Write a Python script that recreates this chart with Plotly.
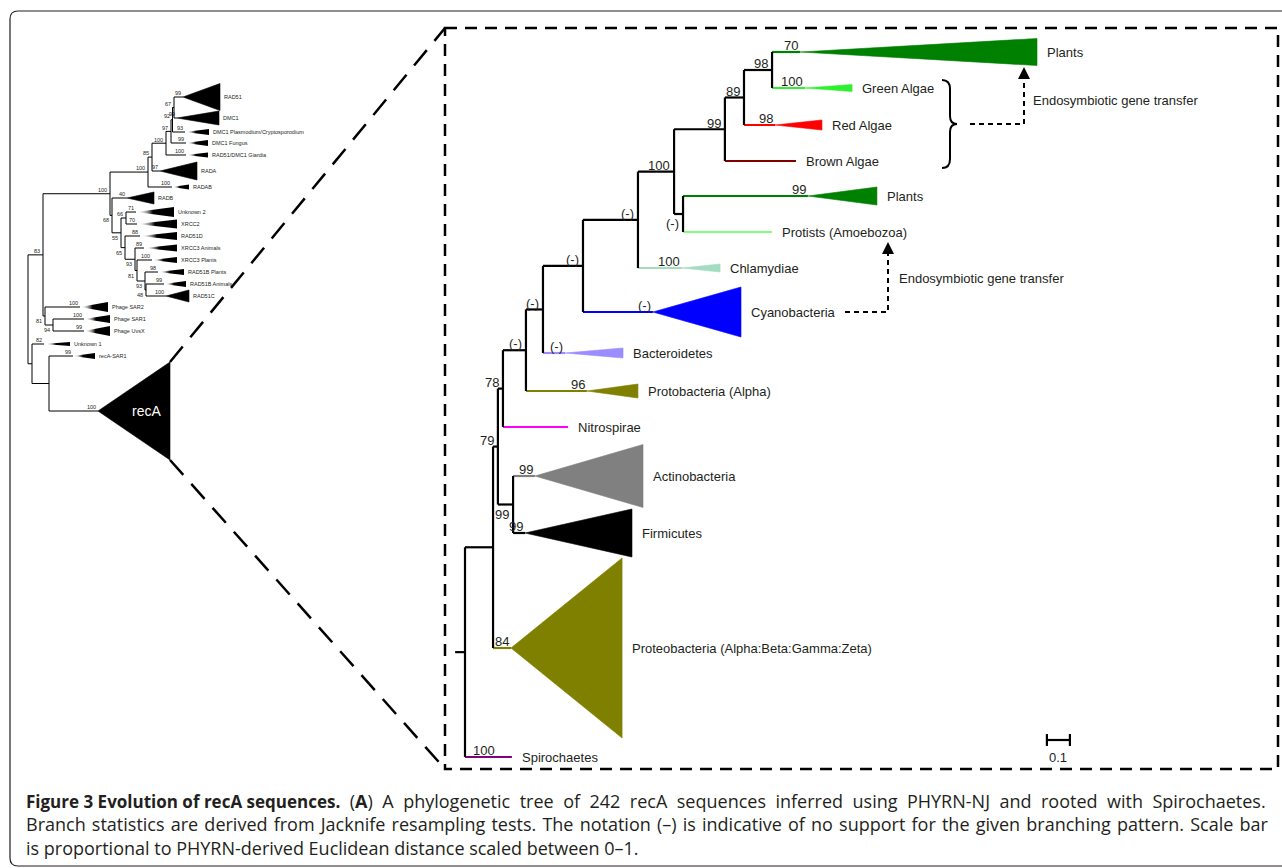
import plotly.graph_objects as go

W, H = 1282, 868

# ---------------- DATA ----------------
# Right panel: recA tree, x = PHYRN-derived distance from the root
R_NODES = ['root', 'nD', 'nB', 'nA', 'nAF', 'nC4', 'nC3', 'nC2', 'nC1', 'n100', 'nPP', 'n99', 'n89', 'n98']
R_NODE_DEPTH = [0.000, 0.122, 0.143, 0.165, 0.209, 0.265, 0.339, 0.513, 0.752, 0.909, 0.948, 1.130, 1.213, 1.335]
R_NODE_SUPPORT = ['', '', '79', '78', '99', '(-)', '(-)', '(-)', '(-)', '100', '(-)', '99', '89', '98']
R_NODE_CHILDREN = [['nD', 'spiro'], ['nB', 'proteo'], ['nA', 'nAF'], ['nC4', 'nitro'], ['actino', 'firm'],
                   ['nC3', 'alpha'], ['nC2', 'bact'], ['nC1', 'cyano'], ['n100', 'chlam'], ['n99', 'nPP'],
                   ['plants2', 'protists'], ['n89', 'brown'], ['n98', 'red'], ['plants1', 'green']]

R_LEAVES = ['plants1', 'green', 'red', 'brown', 'plants2', 'protists', 'chlam', 'cyano', 'bact',
            'alpha', 'nitro', 'actino', 'firm', 'proteo', 'spiro']
R_LEAF_NAME = ['Plants', 'Green Algae', 'Red Algae', 'Brown Algae', 'Plants', 'Protists (Amoebozoa)',
               'Chlamydiae', 'Cyanobacteria', 'Bacteroidetes', 'Protobacteria (Alpha)', 'Nitrospirae',
               'Actinobacteria', 'Firmicutes', 'Proteobacteria (Alpha:Beta:Gamma:Zeta)', 'Spirochaetes']
R_LEAF_ROW = [52, 88, 125, 161, 196, 232, 268, 312, 353, 391, 427, 476, 533, 648, 757]
R_LEAF_APEX = [1.457, 1.478, 1.348, None, 1.491, None, 0.943, 0.817, 0.435, 0.530, None, 0.304, 0.261, 0.200, 0.139]
R_LEAF_TIP = [2.487, 1.683, 1.552, 1.439, 1.791, 1.335, 1.109, 1.200, 0.687, 0.752, 0.448, 0.774, 0.726, 0.683, 0.204]
R_LEAF_SPREAD = [13.5, 3.5, 5, 0, 9, 0, 4, 25, 5, 7, 0, 31.5, 24, 90, 0]
R_LEAF_SUPPORT = ['70', '100', '98', '', '99', '', '100', '(-)', '(-)', '96', '', '99', '99', '84', '100']
R_ROOT_STUB = 0.043
SCALE_BAR_LEN = 0.1
SCALE_BAR_LABEL = '0.1'

# Left panel: full RecA/RAD51 family tree (x = relative distance)
L_NODES = ['G', 'I', 'J', 'M', 'O', 'P', 'Q', 'R', 'S', 'N', 'T', 'U', 'V', 'W', 'X', 'Y', 'Z', 'K', 'L', 'E', 'F']
L_NODE_DEPTH = [28, 43, 110, 148, 152, 166, 171, 172.5, 174, 112, 121, 126, 125, 135, 137, 145, 146, 45, 53, 32, 49]
L_NODE_SUPPORT = ['', '83', '100', '100', '85', '100', '97', '92', '67', '68', '55', '66', '65', '93', '81', '93', '48',
                  '81', '94', '', '']
L_NODE_CHILDREN = [['I', 'E'], ['J', 'K'], ['M', 'N'], ['O', 'RADAB'], ['P', 'RADA'], ['Q', 'RAD51/DMC1 Giardia'],
                   ['R', 'DMC1 Fungus'], ['S', 'DMC1 Plasmodium/Cryptosporodium'], ['RAD51', 'DMC1'],
                   ['RADB', 'T'], ['U', 'V'], ['Unknown 2', 'XRCC2'], ['RAD51D', 'W'], ['XRCC3 Animals', 'X'],
                   ['XRCC3 Plants', 'Y'], ['RAD51B Plants', 'Z'], ['RAD51B Animals', 'RAD51C'],
                   ['Phage SAR2', 'L'], ['Phage SAR1', 'Phage UvsX'], ['Unknown 1', 'F'], ['recA-SAR1', 'recA']]
L_LEAVES = ['RAD51', 'DMC1', 'DMC1 Plasmodium/Cryptosporodium', 'DMC1 Fungus', 'RAD51/DMC1 Giardia', 'RADA',
            'RADAB', 'RADB', 'Unknown 2', 'XRCC2', 'RAD51D', 'XRCC3 Animals', 'XRCC3 Plants', 'RAD51B Plants',
            'RAD51B Animals', 'RAD51C', 'Phage SAR2', 'Phage SAR1', 'Phage UvsX', 'Unknown 1', 'recA-SAR1', 'recA']
L_LEAF_ROW = [97, 118, 132, 143, 155, 171, 187, 198, 212, 224, 236, 248, 260, 272, 284, 296, 307, 319, 331, 344, 356, 411]
L_LEAF_APEX = [183, 177, 185, 186, 186, 160, 172, 127, 136, 137, 140, 144, 152, 158, 164, 166, 80, 84, 84, 44, 73, 98]
L_LEAF_TIP = [220, 219, 209, 208, 208, 197, 189, 154, 174, 177, 177, 177, 177, 184, 186, 189, 108, 110, 110, 70, 95, 170]
L_LEAF_SPREAD = [13.5, 7, 3, 3, 2.5, 9, 2.5, 6, 5, 4.5, 4, 3.5, 3, 3, 3, 6, 5, 4, 5, 2, 3, 49]
L_LEAF_SUPPORT = ['99', '99', '93', '99', '100', '97', '100', '40', '71', '70', '88', '89', '100', '98', '99', '100',
                  '100', '100', '99', '82', '99', '100']

CAPTION_TITLE = 'Figure 3 Evolution of recA sequences.'
CAPTION = [
    ' (<b>A</b>) A phylogenetic tree of 242 recA sequences inferred using PHYRN-NJ and rooted with Spirochaetes.',
    'Branch statistics are derived from Jacknife resampling tests. The notation (–) is indicative of no support '
    'for the given branching pattern. Scale bar',
    'is proportional to PHYRN-derived Euclidean distance scaled between 0–1.',
]
EGT_TEXT = 'Endosymbiotic gene transfer'

# ---------------- STYLE / LAYOUT ----------------
R_LEAF_COLOR = ['#008000', '#2ef02e', '#ff0000', '#800000', '#008000', '#80ff80', '#a3dcc0', '#0000ff',
                '#9b8cff', '#808000', '#ff00ff', '#808080', '#000000', '#808000', '#800080']
TXT = '#231f20'
FONT = 'Liberation Sans, Arial, sans-serif'
CAP_FONT = 'Open Sans, sans-serif'
ROOT_PX = 465.0      # pixel position of the right-tree root
PX_PER_UNIT = 230.0  # pixels per distance unit (right tree)

fig = go.Figure()
annotations = []
shapes = []


def ann(x, y, text, xref='x', size=13, xanchor='left', yanchor='middle', xshift=0, yshift=0, color=TXT,
        family=FONT):
    annotations.append(dict(x=x, y=y, xref=xref, yref='y', text=text, showarrow=False, xanchor=xanchor,
                            yanchor=yanchor, xshift=xshift, yshift=yshift,
                            font=dict(size=size, color=color, family=family)))


def tree_rows(nodes, children, leaves, rows):
    ypos = dict(zip(leaves, rows))
    ch = dict(zip(nodes, children))

    def gety(n):
        if n not in ypos:
            ypos[n] = (gety(ch[n][0]) + gety(ch[n][-1])) / 2.0
        return ypos[n]

    for n in nodes:
        gety(n)
    return ypos


def draw_tree(nodes, depths, supports, children, leaves, rows, apex, tips, spread, lsup, colors, names, xaxis,
              lw, sup_size, name_size, gap, name_shift, gradient):
    xref = 'x' if xaxis == 'x' else 'x2'
    ypos = tree_rows(nodes, children, leaves, rows)
    depth = dict(zip(nodes, depths))
    sup = dict(zip(nodes, supports))
    li = {n: i for i, n in enumerate(leaves)}
    bx, by = [], []
    sdy = sup_size * 0.25
    for n in nodes:
        cs = children[nodes.index(n)]
        d = depth[n]
        bx += [d, d, None]
        by += [ypos[cs[0]], ypos[cs[-1]], None]
        for k, c in enumerate(cs):
            if c in depth:
                bx += [d, depth[c], None]
                by += [ypos[c], ypos[c], None]
                if sup[c]:
                    if k == 0:
                        ann(depth[c], ypos[c], sup[c], xref, sup_size, 'right', 'bottom', -gap, -sdy)
                    else:
                        ann(depth[c], ypos[c], sup[c], xref, sup_size, 'right', 'top', -gap, 0)
            else:
                i = li[c]
                col = colors[i]
                has_tri = spread[i] > 0
                end = apex[i] if has_tri else tips[i]
                fig.add_trace(go.Scatter(x=[d, end], y=[ypos[c], ypos[c]], mode='lines', xaxis=xaxis, yaxis='y',
                                         line=dict(color=col, width=lw), hoverinfo='skip', showlegend=False))
                if has_tri:
                    xa, xt, yy, hh = apex[i], tips[i], ypos[c], spread[i]
                    kw = dict(x=[xa, xt, xt, xa], y=[yy, yy - hh, yy + hh, yy], mode='lines', fill='toself',
                              xaxis=xaxis, yaxis='y', hoverinfo='skip', showlegend=False)
                    if gradient and hh <= 5:
                        kw['line'] = dict(width=0, color=col)
                        kw['fillgradient'] = dict(type='horizontal', start=xa, stop=xt,
                                                  colorscale=[[0, 'rgba(255,255,255,0)'], [0.45, col], [1, col]])
                    else:
                        kw['line'] = dict(width=0.6, color=col)
                        kw['fillcolor'] = col
                    fig.add_trace(go.Scatter(**kw))
                if lsup[i]:
                    ann(apex[i], ypos[c], lsup[i], xref, sup_size, 'right', 'bottom', 0, -sdy)
                if c == 'recA':
                    ann(apex[i] + 2 * (tips[i] - apex[i]) / 3, ypos[c], 'recA', xref, 14, 'center', 'middle',
                        0, 0, 'white')
                else:
                    ann(tips[i], ypos[c], names[i], xref, name_size, 'left', 'middle', name_shift, 0)
    fig.add_trace(go.Scatter(x=bx, y=by, mode='lines', xaxis=xaxis, yaxis='y', line=dict(color='black', width=lw),
                             hoverinfo='skip', showlegend=False, connectgaps=False))
    return ypos


# right tree
rpos = draw_tree(R_NODES, R_NODE_DEPTH, R_NODE_SUPPORT, R_NODE_CHILDREN, R_LEAVES, R_LEAF_ROW, R_LEAF_APEX,
                 R_LEAF_TIP, R_LEAF_SPREAD, R_LEAF_SUPPORT, R_LEAF_COLOR, R_LEAF_NAME, 'x2', 2.2, 13, 13, 2, 8,
                 False)
# root stub
fig.add_trace(go.Scatter(x=[-R_ROOT_STUB, 0], y=[rpos['root'], rpos['root']], mode='lines', xaxis='x2',
                         yaxis='y', line=dict(color='black', width=2.2), hoverinfo='skip', showlegend=False))

# left tree
lpos = draw_tree(L_NODES, L_NODE_DEPTH, L_NODE_SUPPORT, L_NODE_CHILDREN, L_LEAVES, L_LEAF_ROW, L_LEAF_APEX,
                 L_LEAF_TIP, L_LEAF_SPREAD, L_LEAF_SUPPORT, ['black'] * len(L_LEAVES), L_LEAVES, 'x', 1.0, 5.5, 5.5,
                 1, 2, True)

# scale bar
sb0 = 2.53
sby = 740
fig.add_trace(go.Scatter(x=[sb0, sb0 + SCALE_BAR_LEN, None, sb0, sb0, None, sb0 + SCALE_BAR_LEN, sb0 + SCALE_BAR_LEN],
                         y=[sby, sby, None, sby - 6, sby + 6, None, sby - 6, sby + 6], mode='lines', xaxis='x2',
                         yaxis='y', line=dict(color='black', width=2.2), hoverinfo='skip', showlegend=False))
ann(sb0 + SCALE_BAR_LEN / 2, sby + 8, SCALE_BAR_LABEL, 'x2', 13, 'center', 'top')

# endosymbiotic gene transfer annotations (positioned off the leaf rows)
top = rpos['green'] - 8
bot = rpos['brown'] + 7
mid = (top + bot) / 2
bx0 = 942
shapes.append(dict(type='path', xref='x', yref='y', line=dict(color='black', width=2),
                   path=f'M {bx0},{top} Q {bx0 + 8},{top} {bx0 + 8},{top + 9} L {bx0 + 8},{mid - 8} '
                        f'Q {bx0 + 8},{mid} {bx0 + 15},{mid} Q {bx0 + 8},{mid} {bx0 + 8},{mid + 8} '
                        f'L {bx0 + 8},{bot - 9} Q {bx0 + 8},{bot} {bx0},{bot}'))
ax1 = 1024
arr1 = rpos['plants1'] + 15
shapes.append(dict(type='path', xref='x', yref='y', line=dict(color='black', width=2, dash='5px,4px'),
                   path=f'M {bx0 + 28},{mid} L {ax1},{mid} L {ax1},{arr1 + 6}'))
annotations.append(dict(x=ax1, y=arr1, ax=ax1, ay=arr1 + 9, xref='x', yref='y', axref='x', ayref='y', text='',
                        showarrow=True, arrowhead=2, arrowsize=1.2, arrowwidth=2, arrowcolor='black'))
ann(ax1 + 7, (arr1 + mid) / 2 + 5, EGT_TEXT, 'x', 13)

cy = rpos['cyano']
ax2 = 888
arr2 = rpos['protists'] + 10
shapes.append(dict(type='path', xref='x', yref='y', line=dict(color='black', width=2, dash='5px,4px'),
                   path=f'M 845,{cy} L {ax2},{cy} L {ax2},{arr2 + 6}'))
annotations.append(dict(x=ax2, y=arr2, ax=ax2, ay=arr2 + 9, xref='x', yref='y', axref='x', ayref='y', text='',
                        showarrow=True, arrowhead=2, arrowsize=1.2, arrowwidth=2, arrowcolor='black'))
ann(ax2 + 9, (arr2 + cy) / 2 + 1, EGT_TEXT, 'x', 13)

# zoom box + connectors
shapes.append(dict(type='rect', xref='x', yref='y', x0=445, x1=1278, y0=28, y1=769,
                   line=dict(color='black', width=2.5, dash='12px,8px')))
rtop = lpos['recA'] - L_LEAF_SPREAD[-1]
rbot = lpos['recA'] + L_LEAF_SPREAD[-1]
rtip = L_LEAF_TIP[-1]
shapes.append(dict(type='line', xref='x', yref='y', x0=rtip, y0=rtop, x1=445, y1=28,
                   line=dict(color='black', width=2.5, dash='20px,12px')))
shapes.append(dict(type='line', xref='x', yref='y', x0=rtip, y0=rbot, x1=445, y1=769,
                   line=dict(color='black', width=2.5, dash='20px,12px')))

# outer rounded frame
shapes.append(dict(type='path', xref='x', yref='y', line=dict(color='#231f20', width=1.2),
                   path='M 1295,11 L 18,11 Q 10,11 10,19 L 10,858 Q 10,866 18,866 L 1295,866'))

# caption (single justified block)
cap_lines = [
    f'<span style="font-size:17px"><b>{CAPTION_TITLE}</b></span>'
    f'<span style="word-spacing:4.8px">{CAPTION[0]}</span>',
    f'<span style="word-spacing:1.5px">{CAPTION[1]}</span>',
    CAPTION[2],
]
annotations.append(dict(x=25, y=788, xref='x', yref='y', text='<br>'.join(cap_lines), showarrow=False,
                        xanchor='left', yanchor='top', align='left', borderpad=0,
                        font=dict(size=18, color=TXT, family=CAP_FONT)))

fig.update_layout(
    width=W, height=H, margin=dict(l=0, r=0, t=0, b=0),
    paper_bgcolor='white', plot_bgcolor='white', showlegend=False,
    xaxis=dict(range=[0, W], visible=False, fixedrange=True),
    xaxis2=dict(range=[-ROOT_PX / PX_PER_UNIT, (W - ROOT_PX) / PX_PER_UNIT], overlaying='x', anchor='y',
                visible=False, fixedrange=True),
    yaxis=dict(range=[H, 0], visible=False, fixedrange=True),
    annotations=annotations, shapes=shapes,
)

fig.write_html("out.html", config={'displayModeBar': False},
               post_script="document.body.style.margin='0';document.body.style.overflow='hidden';")
